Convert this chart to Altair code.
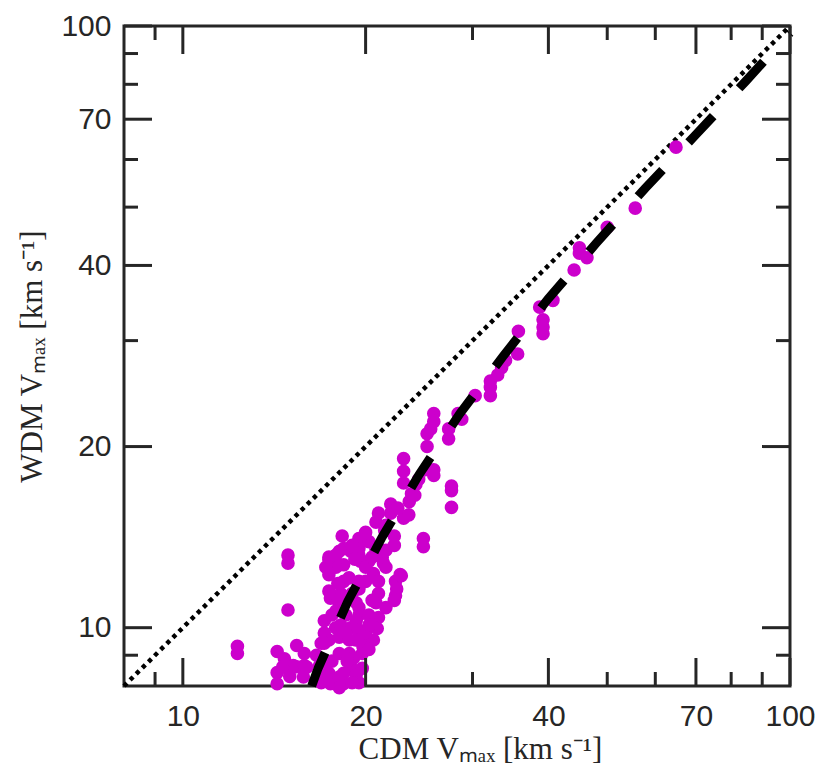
import altair as alt
import pandas as pd

# ---- data ----
cdm_vmax = [
    12.3, 12.3, 14.9, 14.9, 14.9, 14.3, 14.7, 14.3, 14.3, 15.4, 15.4, 15.2, 15.0, 14.6,
    15.85, 15.85, 15.8, 16.0, 16.6, 16.9, 16.8, 17.1, 16.9,
    17.4, 17.4, 17.4, 17.5, 17.1, 17.6, 17.85, 17.1, 17.4, 17.1, 17.6, 17.2, 17.4, 17.5,
    18.1, 18.4, 18.4, 18.4, 18.2, 18.0, 18.55, 18.2, 18.9, 18.1, 18.1, 18.8, 18.8, 18.9,
    18.1, 18.4, 18.4,
    19.5, 19.6, 19.5, 19.3, 19.5, 19.5, 19.3, 19.5, 19.75, 19.1, 19.3, 19.75, 19.8,
    20.0, 20.25, 20.6, 20.8, 20.8, 21.0, 21.0, 21.0, 20.25, 20.9, 20.1, 20.6, 20.25,
    21.4, 21.6, 22.4, 22.9, 22.4, 22.5, 22.8, 22.3,
    17.87, 18.0, 18.78, 19.0, 20.0, 20.5, 21.6, 21.6, 21.2, 19.5, 18.55, 19.26, 19.5,
    19.0, 18.1, 18.65, 20.0, 20.25, 19.5, 18.9, 17.87, 17.2,
    17.4, 18.3, 19.5, 19.5, 19.2, 20.5, 21.3, 20.25, 20.8, 21.5, 22.3, 22.3, 22.0, 22.0,
    23.6, 23.8, 23.1, 24.9, 24.9, 24.2,
    20.0, 21.0, 21.6, 22.6, 23.56, 24.1, 24.46, 25.1, 21.3, 19.0, 17.87,
    23.1, 23.1, 23.1, 25.25, 25.6, 25.25, 25.9, 25.9, 25.9, 25.9,
    27.4, 27.4, 27.7, 27.7, 27.7,
    28.4, 28.8, 30.3, 32.1, 32.1, 32.1, 33.0, 33.5, 34.0, 35.6, 35.7,
    39.2, 39.2, 39.2, 38.7, 40.7, 44.1, 45.0, 45.0, 46.3, 50.0, 55.6, 64.9,
]
wdm_vmax = [
    9.31, 9.06, 13.2, 12.8, 10.7, 9.13, 8.88, 8.42, 8.07, 9.34, 8.61, 8.65, 8.3, 8.6,
    9.06, 8.65, 8.28, 8.6, 9.0, 9.42, 8.65, 8.4, 8.1,
    12.97, 12.25, 11.5, 11.2, 10.27, 10.5, 10.0, 9.8, 9.54, 9.42, 8.8, 8.8, 8.4, 8.07,
    13.4, 13.54, 12.72, 11.94, 11.4, 11.1, 10.5, 10.1, 10.0, 9.64, 9.06, 9.54, 9.06, 8.61,
    8.28, 8.07, 8.4,
    13.7, 12.9, 11.6, 11.0, 10.8, 10.5, 10.27, 9.9, 9.06, 8.9, 8.35, 8.56, 9.3,
    11.94, 12.9, 12.3, 13.5, 11.0, 11.4, 11.94, 10.4, 10.5, 9.97, 9.54, 9.54, 9.2,
    12.8, 13.45, 11.94, 12.2, 11.3, 11.6, 12.25, 11.1,
    10.66, 11.84, 12.1, 11.4, 12.6, 11.1, 10.8, 12.6, 13.2, 11.94, 9.8, 9.54, 8.1,
    8.1, 7.95, 8.8, 9.8, 10.1, 13.2, 13.4, 12.6, 12.6,
    13.1, 14.2, 14.07, 13.54, 13.0, 13.1, 13.1, 13.9, 14.98, 14.5, 14.2, 13.7, 16.05, 15.5,
    16.2, 16.7, 15.2, 14.07, 13.63, 17.3,
    14.4, 15.5, 14.8, 15.8, 15.4, 16.6, 17.65, 18.3, 13.4, 13.7, 13.2,
    19.1, 18.2, 17.4, 21.0, 21.4, 20.0, 18.3, 17.9, 22.7, 22.0,
    21.4, 20.6, 17.2, 16.9, 15.85,
    22.7, 22.2, 24.3, 25.7, 25.1, 24.3, 26.3, 27.05, 27.8, 28.5, 31.1,
    32.5, 31.6, 30.8, 34.1, 35.0, 39.3, 42.8, 41.9, 41.2, 46.3, 49.8, 62.9,
]
fit_cdm = [16.3, 16.7, 18.7, 21.3, 24.5, 28.6, 33.7, 40.0, 48.0, 57.7, 69.7, 84.5, 100.0]
fit_wdm = [8.0, 8.56, 11.07, 14.15, 17.97, 22.69, 28.27, 35.24, 43.6, 53.7, 65.7, 80.9, 97.5]
one_to_one = [8, 100]
major_ticks = [10, 20, 40, 70, 100]
minor_ticks = [9, 30, 50, 60, 80, 90]

W, H = 666, 660
AXIS_COLOR = "#262626"
DOMAIN = [8, 100]

pts = pd.DataFrame({"cdm": cdm_vmax, "wdm": wdm_vmax})
fit = pd.DataFrame({"cdm": fit_cdm, "wdm": fit_wdm})
diag = pd.DataFrame({"cdm": one_to_one, "wdm": one_to_one})

xs = alt.Scale(type="log", domain=DOMAIN, nice=False)
ys = alt.Scale(type="log", domain=DOMAIN, nice=False)

common_axis = dict(
    values=major_ticks, format="d", grid=False, domain=False, ticks=False, tickSize=0,
    labelFont="Liberation Sans", labelFontSize=30, labelColor=AXIS_COLOR,
    labelFlush=False, labelOverlap=False,
    titleFont="Liberation Serif", titleFontSize=31, titleFontWeight="normal",
    titleColor=AXIS_COLOR,
)
xaxis = alt.Axis(title="CDM Vₘₐₓ [km s⁻¹]", labelPadding=15,
                 titleBaseline="alphabetic", titleY=72, titleX=356, **common_axis)
yaxis = alt.Axis(title="WDM Vₘₐₓ [km s⁻¹]", labelPadding=13,
                 titleBaseline="alphabetic", titleX=-83, **common_axis)

X = alt.X("cdm:Q", scale=xs, axis=xaxis)
Y = alt.Y("wdm:Q", scale=ys, axis=yaxis)

dotted = alt.Chart(diag).mark_line(
    color="black", strokeWidth=4.5, strokeDash=[4.2, 4.4], strokeCap="butt"
).encode(x=X, y=Y)

scatter = alt.Chart(pts).mark_circle(
    size=185, color="#cc00cc", opacity=1
).encode(x=X, y=Y)

dashed = alt.Chart(fit).mark_line(
    color="black", strokeWidth=9, strokeDash=[36, 38], strokeCap="butt"
).encode(x=X, y=Y)

layers = [dotted, scatter, dashed]

for vals, length in [(major_ticks, 28), (minor_ticks, 14)]:
    tdf = pd.DataFrame({"cdm": vals, "wdm": vals})
    base = alt.Chart(tdf).mark_rule(color=AXIS_COLOR, strokeWidth=3)
    layers.append(base.encode(x=X, y=alt.value(H), y2=alt.value(H - length)))
    layers.append(base.encode(x=X, y=alt.value(0), y2=alt.value(length)))
    layers.append(base.encode(y=Y, x=alt.value(0), x2=alt.value(length)))
    layers.append(base.encode(y=Y, x=alt.value(W), x2=alt.value(W - length)))

chart = alt.layer(*layers).properties(
    width=W, height=H,
    autosize=alt.AutoSizeParams(type="none"),
    padding={"left": 116, "top": 18, "right": 25, "bottom": 80},
).configure_view(stroke=AXIS_COLOR, strokeWidth=3)

chart.save("out.html", embed_options={"renderer": "svg", "actions": False})
